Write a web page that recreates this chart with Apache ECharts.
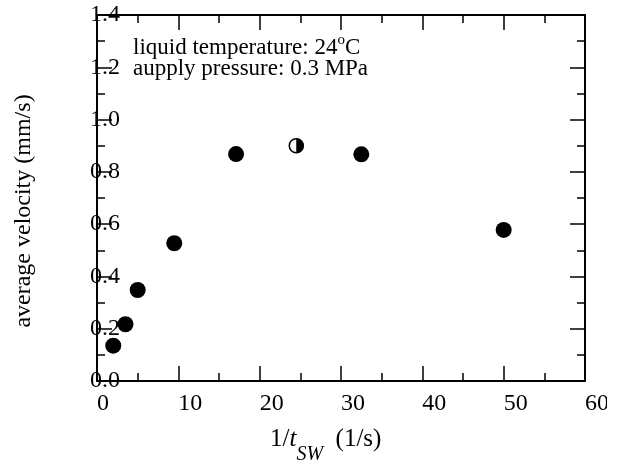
<!DOCTYPE html>
<html><head><meta charset="utf-8">
<script src="https://cdn.jsdelivr.net/npm/echarts@6/dist/echarts.min.js"></script>
<style>html,body{margin:0;padding:0;background:#fff}#c{width:617px;height:466px}</style>
</head><body><div id="c"></div>
<script>
// Data
const filledX = [2.0, 3.5, 5.0, 9.5, 17.1, 32.5, 50.0];
const filledY = [0.135, 0.217, 0.348, 0.527, 0.868, 0.867, 0.578];
const halfX = [24.5];
const halfY = [0.90];
const xTickLabels = ['0', '10', '20', '30', '40', '50', '60'];
const yTickLabels = ['0.0', '0.2', '0.4', '0.6', '0.8', '1.0', '1.2', '1.4'];
const xTitleParts = ['1/', 't', 'SW', '  (1/s)'];
const yTitle = 'average velocity (mm/s)';
const note1 = ['liquid temperature: 24', 'o', 'C'];
const note2 = 'aupply pressure: 0.3 MPa';

const FONT = 'Liberation Serif';
const chart = echarts.init(document.getElementById('c'), null, {renderer: 'canvas'});

function axisBase(showLabel, isX) {
  return {
    type: 'value',
    axisLine: {show: true, onZero: false, lineStyle: {color: '#000', width: 2}},
    axisTick: {show: true, inside: true, length: 15, lineStyle: {color: '#000', width: 1.5}},
    minorTick: {show: true, splitNumber: 2, length: 8, lineStyle: {color: '#000', width: 1.5}},
    splitLine: {show: false},
    minorSplitLine: {show: false},
    axisLabel: isX ? {
      show: showLabel, color: '#000', fontFamily: FONT, fontSize: 24, align: 'left', margin: 11,
      formatter: v => xTickLabels[Math.round(v / 10)] ?? ''
    } : {
      show: showLabel, color: '#000', fontFamily: FONT, fontSize: 24, align: 'right', margin: -23,
      formatter: v => yTickLabels[Math.round(v / 0.2)] ?? ''
    }
  };
}

const xA = Object.assign(axisBase(true, true), {min: 0, max: 60, interval: 10, position: 'bottom'});
const xB = Object.assign(axisBase(false, true), {min: 0, max: 60, interval: 10, position: 'top'});
const yA = Object.assign(axisBase(true, false), {min: 0, max: 1.4, interval: 0.2, position: 'left'});
const yB = Object.assign(axisBase(false, false), {min: 0, max: 1.4, interval: 0.2, position: 'right'});

chart.setOption({
  animation: false,
  backgroundColor: '#fff',
  grid: {left: 97, right: 32, top: 15, bottom: 85, containLabel: false},
  xAxis: [xA, xB],
  yAxis: [yA, yB],
  series: [
    {
      type: 'scatter', xAxisIndex: 0, yAxisIndex: 0,
      symbol: 'circle', symbolSize: 16,
      itemStyle: {color: '#000', opacity: 1},
      data: filledX.map((x, i) => [x, filledY[i]])
    },
    {
      type: 'scatter', xAxisIndex: 0, yAxisIndex: 0,
      symbol: 'circle', symbolSize: 14,
      itemStyle: {color: '#fff', borderColor: '#000', borderWidth: 1.5, opacity: 1},
      data: halfX.map((x, i) => [x, halfY[i]])
    },
    {
      type: 'scatter', xAxisIndex: 0, yAxisIndex: 0,
      symbol: 'path://M0,0 A10,10 0 0 1 0,20 Z', symbolSize: [7.5, 15], symbolOffset: [3.75, 0],
      itemStyle: {color: '#000', opacity: 1}, z: 3,
      data: halfX.map((x, i) => [x, halfY[i]])
    }
  ],
  graphic: [
    {
      type: 'text', x: 133, y: 48, z: 10,
      style: {
        text: note1[0] + '{sup|' + note1[1] + '}' + note1[2],
        fontFamily: FONT, fontSize: 23, fill: '#000', lineHeight: 30,
        align: 'left', verticalAlign: 'middle',
        rich: {sup: {fontFamily: FONT, fontSize: 15, height: 14, lineHeight: 14, verticalAlign: 'top', fill: '#000'}}
      }
    },
    {
      type: 'text', x: 133, y: 69, z: 10,
      style: {text: note2, fontFamily: FONT, fontSize: 23, fill: '#000', align: 'left', verticalAlign: 'middle'}
    },
    {
      type: 'text', x: 270, y: 439, z: 10,
      style: {
        text: xTitleParts[0] + '{i|' + xTitleParts[1] + '}{sub|' + xTitleParts[2] + '}' + xTitleParts[3],
        fontFamily: FONT, fontSize: 25, fill: '#000', lineHeight: 52,
        align: 'left', verticalAlign: 'middle',
        rich: {
          i: {fontFamily: FONT, fontSize: 25, fontStyle: 'italic', lineHeight: 52, fill: '#000'},
          sub: {fontFamily: FONT, fontSize: 20, fontStyle: 'italic', lineHeight: 20, verticalAlign: 'bottom', fill: '#000'}
        }
      }
    },
    {
      type: 'text', x: 24, y: 211, rotation: Math.PI / 2, z: 10,
      style: {text: yTitle, fontFamily: FONT, fontSize: 24, fill: '#000', align: 'center', verticalAlign: 'middle'}
    },
    {
      type: 'rect', z: 20, shape: {x: 607, y: 388, width: 10, height: 30},
      style: {fill: '#fff'}
    }
  ]
});
</script></body></html>
